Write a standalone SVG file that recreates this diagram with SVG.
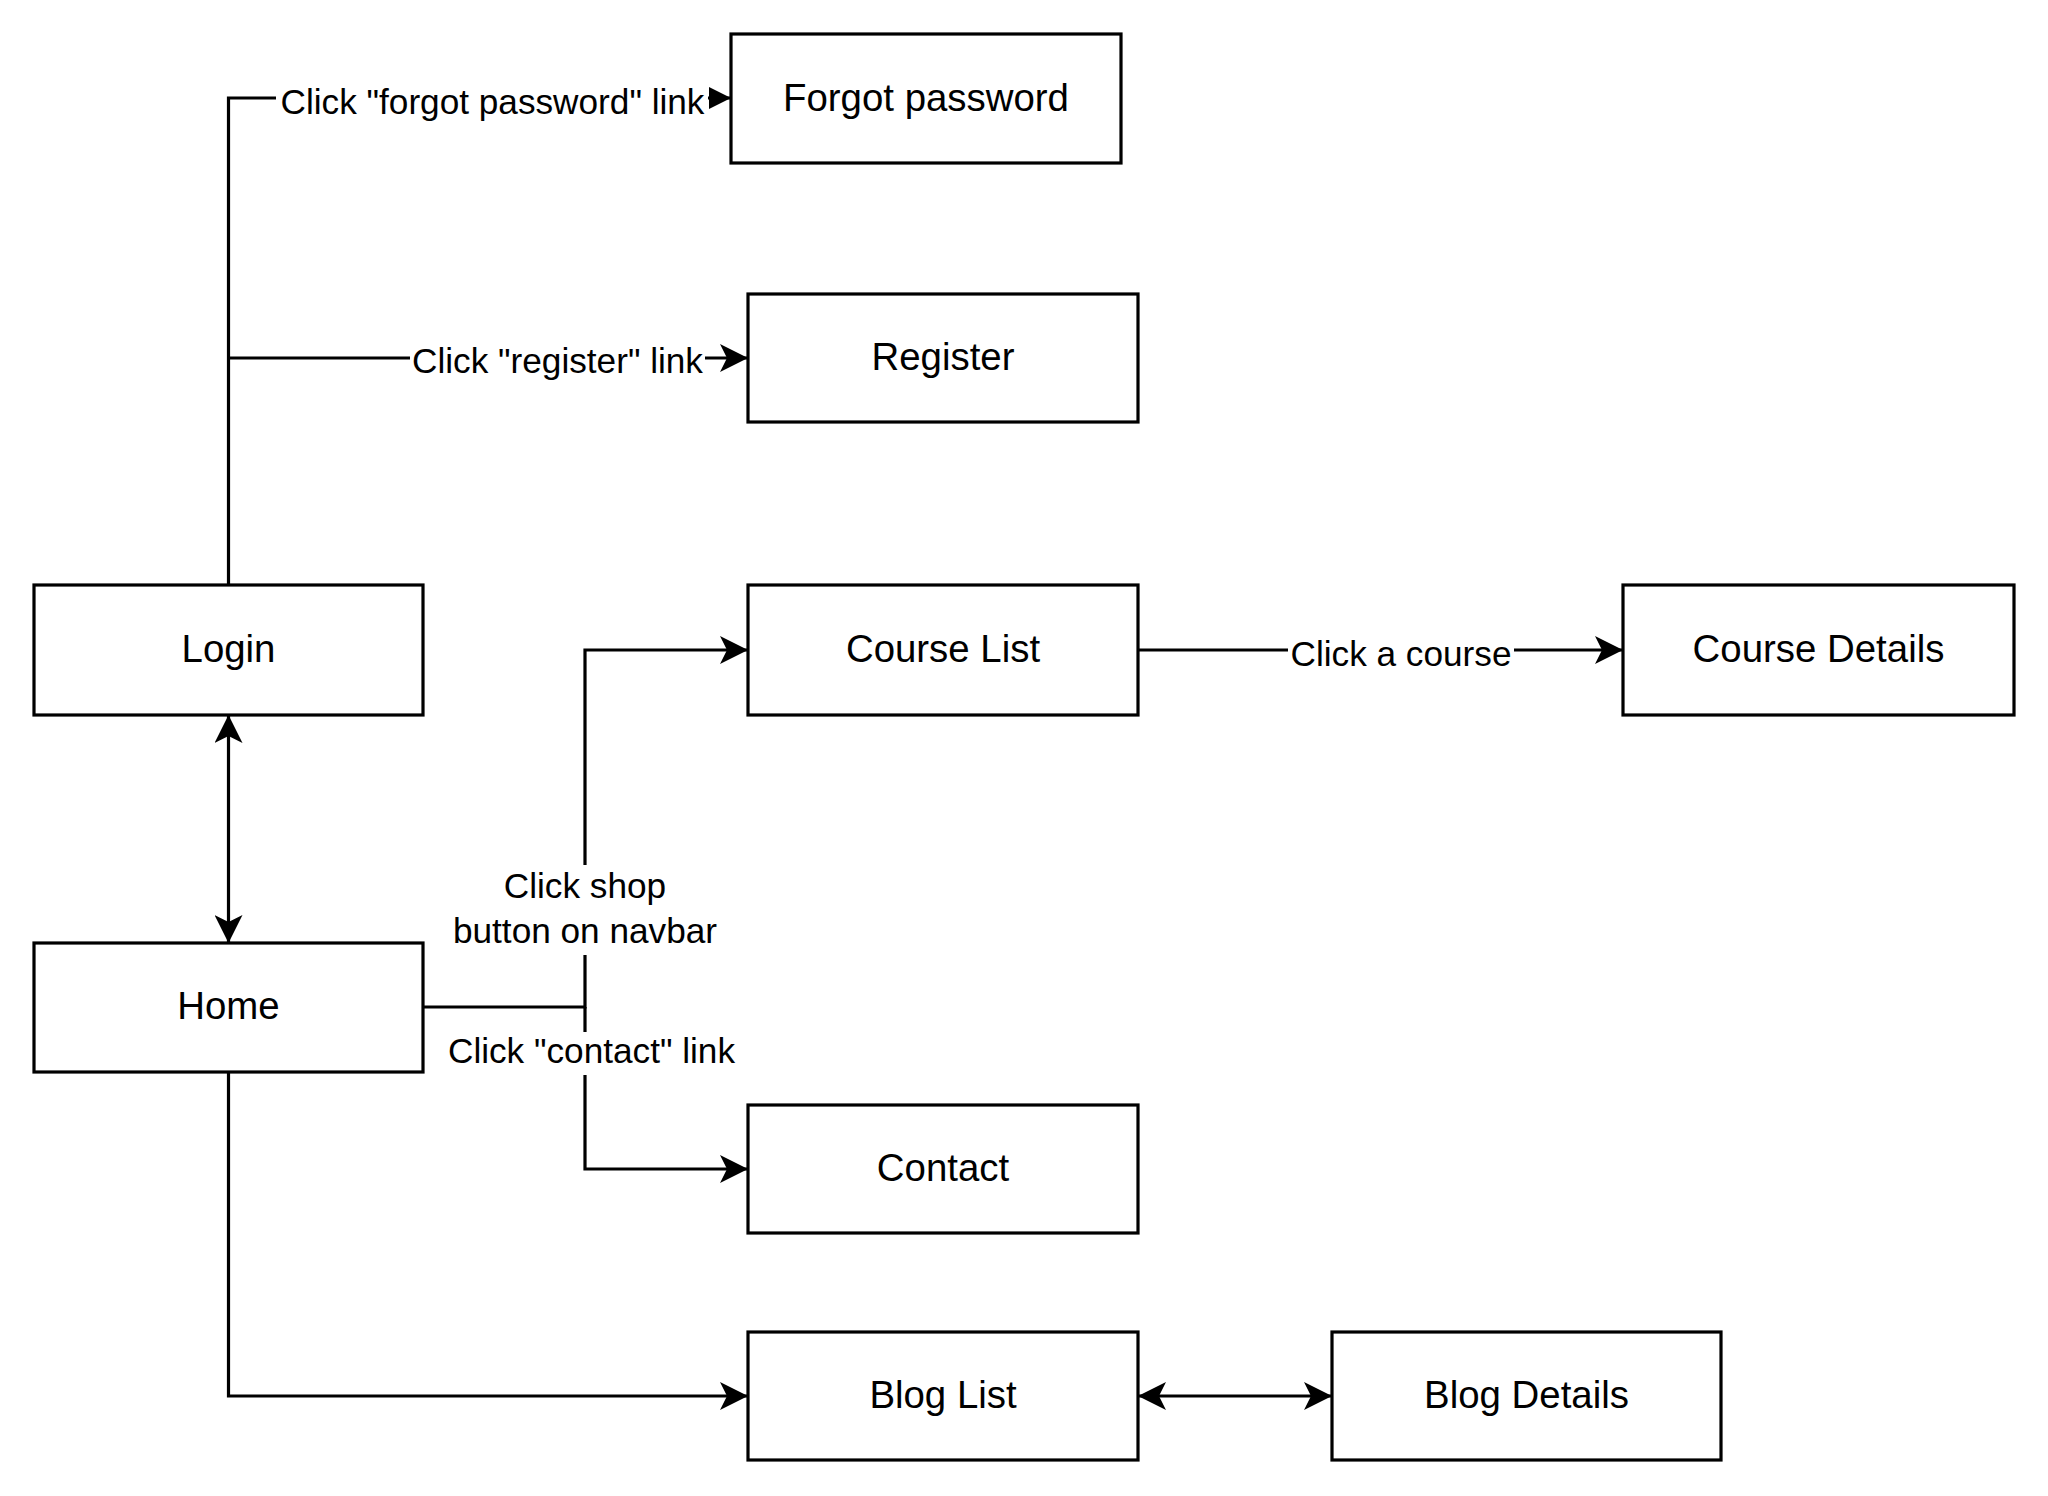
<svg xmlns="http://www.w3.org/2000/svg" width="2048" height="1496" viewBox="0 0 2048 1496">
<style>
.node rect{fill:#fff;stroke:#000;stroke-width:3.2}
.node text{font-family:"Liberation Sans",Arial,sans-serif;font-size:38.4px;fill:#000;text-anchor:middle}
.edge{fill:none;stroke:#000;stroke-width:3.2}
.lbl{font-family:"Liberation Sans",Arial,sans-serif;font-size:35.2px;fill:#000;text-anchor:middle}
.lblbg{fill:#fff;stroke:none}
</style>
<defs>
<marker id="classic" markerUnits="userSpaceOnUse" viewBox="0 0 28 28" refX="27" refY="14" markerWidth="28" markerHeight="28" orient="auto-start-reverse">
<path d="M28,14 L0,0 L7,14 L0,28 Z" fill="#000"/>
</marker>
<marker id="block" markerUnits="userSpaceOnUse" viewBox="0 0 22 22" refX="22" refY="11" markerWidth="22" markerHeight="22" orient="auto">
<path d="M22,11 L0,0 L0,22 Z" fill="#000"/>
</marker>
</defs>
<rect width="2048" height="1496" fill="#fff"/>
<g id="connectors">
<path class="edge" d="M228.5,585 V98 H731" marker-end="url(#block)"/>
<path class="edge" d="M228.5,358 H747" marker-end="url(#classic)"/>
<path class="edge" d="M228.5,716 V942" marker-start="url(#classic)" marker-end="url(#classic)"/>
<path class="edge" d="M423,1007 H585 V650 H747" marker-end="url(#classic)"/>
<path class="edge" d="M585,1007 V1169 H747" marker-end="url(#classic)"/>
<path class="edge" d="M1138,650 H1622" marker-end="url(#classic)"/>
<path class="edge" d="M228.5,1071 V1396 H747" marker-end="url(#classic)"/>
<path class="edge" d="M1139,1396 H1331" marker-start="url(#classic)" marker-end="url(#classic)"/>
<g id="label-forgot">
<rect class="lblbg" x="276" y="82" width="432" height="36"/>
<text class="lbl" x="492.5" y="113.5">Click "forgot password" link</text>
</g>
<g id="label-register">
<rect class="lblbg" x="410" y="342" width="295" height="36"/>
<text class="lbl" x="557.5" y="372.5">Click "register" link</text>
</g>
<g id="label-course">
<rect class="lblbg" x="1288" y="634" width="226" height="36"/>
<text class="lbl" x="1401" y="665.5">Click a course</text>
</g>
<g id="label-shop">
<rect class="lblbg" x="450" y="865" width="270" height="90"/>
<text class="lbl" x="585" y="898">Click shop</text>
<text class="lbl" x="585" y="943">button on navbar</text>
</g>
<g id="label-contact">
<rect class="lblbg" x="446" y="1032" width="292" height="43"/>
<text class="lbl" x="591.5" y="1063">Click "contact" link</text>
</g>
</g>
<g id="node-forgot" class="node"><rect x="731" y="34" width="390" height="129"/><text x="926" y="110.5">Forgot password</text></g>
<g id="node-register" class="node"><rect x="748" y="294" width="390" height="128"/><text x="943" y="369.5">Register</text></g>
<g id="node-login" class="node"><rect x="34" y="585" width="389" height="130"/><text x="228.5" y="661.5">Login</text></g>
<g id="node-courselist" class="node"><rect x="748" y="585" width="390" height="130"/><text x="943" y="661.5">Course List</text></g>
<g id="node-coursedetails" class="node"><rect x="1623" y="585" width="391" height="130"/><text x="1818.5" y="661.5">Course Details</text></g>
<g id="node-home" class="node"><rect x="34" y="943" width="389" height="129"/><text x="228.5" y="1018.5">Home</text></g>
<g id="node-contact" class="node"><rect x="748" y="1105" width="390" height="128"/><text x="943" y="1180.5">Contact</text></g>
<g id="node-bloglist" class="node"><rect x="748" y="1332" width="390" height="128"/><text x="943" y="1407.5">Blog List</text></g>
<g id="node-blogdetails" class="node"><rect x="1332" y="1332" width="389" height="128"/><text x="1526.5" y="1407.5">Blog Details</text></g>
</svg>
